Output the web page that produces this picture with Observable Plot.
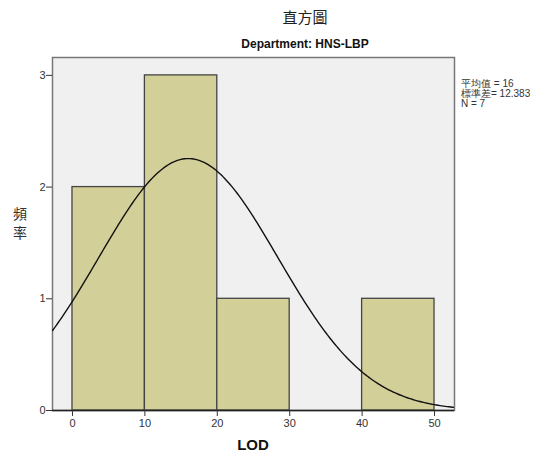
<!DOCTYPE html>
<html><head><meta charset="utf-8">
<script src="https://cdn.jsdelivr.net/npm/d3@7"></script>
<script src="https://cdn.jsdelivr.net/npm/@observablehq/plot@0.6"></script>
<style>
body{margin:0;background:#fff;}
#wrap{position:relative;width:540px;height:459px;font-family:"Liberation Sans",Arial,sans-serif;}
.t{position:absolute;white-space:nowrap;}
</style></head>
<body><div id="wrap"></div>
<script>
// Data
const binStarts = [0, 10, 20, 30, 40];
const binEnds = [10, 20, 30, 40, 50];
const counts = [2, 3, 1, 0, 1];
const xTicks = [0, 10, 20, 30, 40, 50];
const yTicks = [0, 1, 2, 3];
const statMean = 16;
const statSD = 12.383;
const statN = 7;
const binWidth = 10;

const xDomain = [-2.76, 52.76];
const yDomain = [0, 3.16];

const bins = binStarts.map((s, i) => ({x1: s, x2: binEnds[i], y: counts[i]})).filter(d => d.y > 0);

// fitted normal curve from the stated mean / SD / N
const curve = d3.range(xDomain[0], xDomain[1] + 0.01, 0.25).map(x => ({
  x, y: statN * binWidth * Math.exp(-0.5 * ((x - statMean) / statSD) ** 2) / (statSD * Math.sqrt(2 * Math.PI))
}));

const chart = Plot.plot({
  width: 540, height: 459,
  marginLeft: 52, marginRight: 86, marginTop: 57, marginBottom: 49,
  style: {fontFamily: "'Liberation Sans', Arial, sans-serif", fontSize: "11px", color: "#333", background: "transparent"},
  x: {domain: xDomain, label: null},
  y: {domain: yDomain, label: null},
  marks: [
    Plot.frame({fill: "#f0f0f0", stroke: "#777", strokeWidth: 1.5}),
    Plot.rectY(bins, {x1: "x1", x2: "x2", y: "y", fill: "#d3cf98", stroke: "#444", strokeWidth: 1.3}),
    Plot.line(curve, {x: "x", y: "y", stroke: "#111", strokeWidth: 1.4, clip: true}),
    Plot.ruleY([0], {stroke: "#222", strokeWidth: 1.5}),
    Plot.axisX({ticks: xTicks, tickFormat: "d", tickSize: 6, tickPadding: 3, stroke: "#333", label: null}),
    Plot.axisY({ticks: yTicks, tickFormat: "d", tickSize: 6, tickPadding: 1, stroke: "#333", label: null})
  ]
});
const wrap = document.getElementById("wrap");
wrap.appendChild(chart);
chart.style.position = "absolute"; chart.style.left = "0"; chart.style.top = "0";

function addText(txt, css) {
  const d = document.createElement("div");
  d.className = "t"; d.innerHTML = txt; Object.assign(d.style, css); wrap.appendChild(d);
  return d;
}
addText("直方圖", {left: "305px", top: "6px", transform: "translateX(-50%)", fontSize: "15px", fontFamily: "'Noto Sans CJK TC', serif", color: "#222"});
addText("Department: HNS-LBP", {left: "305px", top: "37px", transform: "translateX(-50%)", fontSize: "12px", fontWeight: "bold", color: "#111"});
addText("頻", {left: "13px", top: "206px", fontSize: "14px", lineHeight: "14px", height: "14px", fontFamily: "'Noto Sans CJK TC', serif", color: "#333"});
addText("率", {left: "13px", top: "225px", fontSize: "14px", lineHeight: "14px", height: "14px", fontFamily: "'Noto Sans CJK TC', serif", color: "#333"});
addText("LOD", {left: "253px", top: "436px", transform: "translateX(-50%)", fontSize: "15px", fontWeight: "bold", color: "#111"});
addText(`平均值 = ${statMean}`, {left: "461px", top: "78px", fontSize: "10px", lineHeight: "11px", color: "#333"});
addText(`標準差= ${statSD}`, {left: "461px", top: "88px", fontSize: "10px", lineHeight: "11px", color: "#333"});
addText(`N = ${statN}`, {left: "461px", top: "98px", fontSize: "10px", lineHeight: "11px", color: "#333"});
</script></body></html>
